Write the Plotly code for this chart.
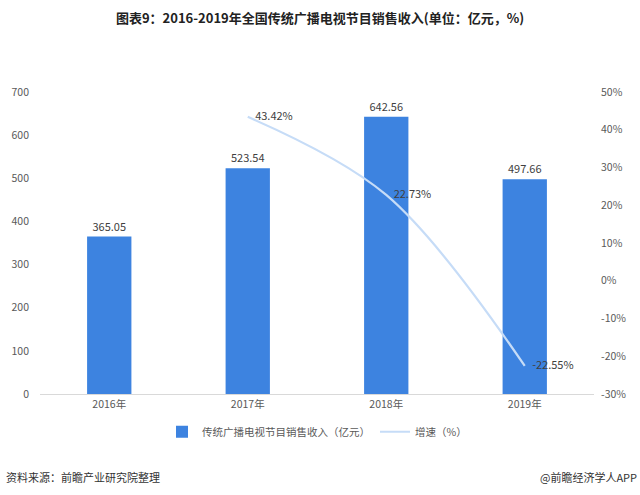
import plotly.graph_objects as go

years = ["2016年", "2017年", "2018年", "2019年"]
revenue = [365.05, 523.54, 642.56, 497.66]
growth_years = ["2017年", "2018年", "2019年"]
growth = [43.42, 22.73, -22.55]
pct_tick_vals = [-30, -20, -10, 0, 10, 20, 30, 40, 50]
pct_tick_text = ["-30%", "-20%", "-10%", "0%", "10%", "20%", "30%", "40%", "50%"]

FONT = "Noto Sans CJK SC"

fig = go.Figure()
fig.add_trace(go.Bar(
    x=years, y=revenue, name="传统广播电视节目销售收入（亿元）",
    marker=dict(color="#3d83e0", line=dict(width=0)),
    width=0.32,
    text=[f"{v:.2f}" for v in revenue], textposition="outside",
    textfont=dict(size=11, color="#404040"), cliponaxis=False,
))
fig.add_trace(go.Scatter(
    x=growth_years, y=growth, name="增速（%）", yaxis="y2",
    mode="lines+text", line=dict(color="#c6dcf7", width=2.2, shape="spline", smoothing=1),
    text=[f"   {v:.2f}%" for v in growth], textposition="middle right",
    textfont=dict(size=11, color="#404040"), cliponaxis=False,
))

fig.update_layout(
    width=640, height=495,
    margin=dict(l=40, r=46, t=92, b=101, autoexpand=False),
    paper_bgcolor="white", plot_bgcolor="white",
    font=dict(family=FONT, color="#595959", size=10.5),
    title=dict(text="<b>图表9：2016-2019年全国传统广播电视节目销售收入(单位：亿元，%)</b>",
               x=0.5, xanchor="center", y=0.962, yanchor="middle",
               font=dict(size=13, color="#222222", family=FONT), automargin=False),
    bargap=0.5,
    xaxis=dict(showgrid=False, showline=True, linecolor="#d9d9d9", linewidth=1,
               ticks="", tickfont=dict(size=10.5, color="#595959"), automargin=False),
    yaxis=dict(range=[0, 700], dtick=100, showgrid=False, zeroline=False,
               showline=False, tickfont=dict(size=10.5, color="#595959"),
               ticklabelstandoff=10, automargin=False),
    yaxis2=dict(range=[-30, 50], tickvals=pct_tick_vals, ticktext=pct_tick_text,
                overlaying="y", side="right",
                showgrid=False, zeroline=False, showline=False,
                tickfont=dict(size=10.5, color="#595959"), ticklabelstandoff=6,
                automargin=False),
    legend=dict(orientation="h", x=0.5, xanchor="center", y=-0.125, yanchor="middle",
                font=dict(size=10.5, color="#595959"), itemwidth=30, tracegroupgap=0),
    showlegend=True,
)

fig.add_annotation(text="资料来源：前瞻产业研究院整理", xref="paper", yref="paper",
                   x=-0.065, y=-0.275, xanchor="left", yanchor="middle", showarrow=False,
                   font=dict(size=11, color="#333333"))
fig.add_annotation(text="@前瞻经济学人APP", xref="paper", yref="paper",
                   x=1.081, y=-0.275, xanchor="right", yanchor="middle", showarrow=False,
                   font=dict(size=11, color="#333333"))

fig.write_html("out.html", config={"displayModeBar": False},
               post_script="document.body.style.margin='0';")
